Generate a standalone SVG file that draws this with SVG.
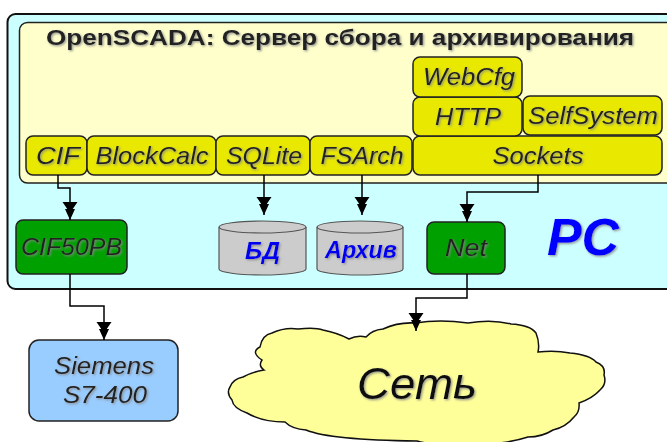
<svg xmlns="http://www.w3.org/2000/svg" width="667" height="442" viewBox="0 0 667 442">
<defs>
<filter id="sh" x="-10%" y="-30%" width="130%" height="170%">
<feDropShadow dx="1.2" dy="1.2" stdDeviation="0.8" flood-color="#888" flood-opacity="0.9"/>
</filter>
<marker id="arr" markerUnits="userSpaceOnUse" markerWidth="20" markerHeight="16" refX="0" refY="0" orient="auto" overflow="visible">
<path d="M-18,-7.5 L-18,7.5 L-7,0 Z M-11,-5 L-11,5 L0,0 Z" fill="#000"/>
</marker>
</defs>
<style>
text{font-family:"Liberation Sans",Arial,sans-serif;text-anchor:middle}
.y{fill:#e8e800;stroke:#222;stroke-width:1.5}
.yt{font-size:24px;font-style:italic;fill:#222;filter:url(#sh)}
.g{fill:#00a000;stroke:#222;stroke-width:1.5}
.cyl{fill:#cccccc;stroke:#555;stroke-width:1.2}
.ct{font-size:23px;font-style:italic;font-weight:bold;fill:#0000ee;filter:url(#sh)}
.con{fill:none;stroke:#000;stroke-width:1.5;marker-end:url(#arr)}
</style>
<g id="pc">
<rect x="7.5" y="14" width="700" height="275" rx="8" fill="#ccffff" stroke="#111" stroke-width="2"/>
<text x="583" y="255" font-size="52" font-weight="bold" font-style="italic" fill="#0000ff" filter="url(#sh)">PC</text>
</g>
<g id="openscada">
<rect x="19.5" y="22.5" width="680" height="160.5" rx="8" fill="#ffffcc" stroke="#222" stroke-width="1.5"/>
<text x="340" y="45" font-size="22.5" font-weight="bold" fill="#222" textLength="588" lengthAdjust="spacingAndGlyphs" filter="url(#sh)">OpenSCADA: Сервер сбора и архивирования</text>
</g>
<g id="cif"><rect class="y" x="26" y="136" width="61" height="39" rx="7"/><text class="yt" x="58" y="163.5" textLength="44" lengthAdjust="spacingAndGlyphs">CIF</text></g>
<g id="blockcalc"><rect class="y" x="87" y="136" width="129" height="39" rx="7"/><text class="yt" x="152" y="163.5" textLength="113" lengthAdjust="spacingAndGlyphs">BlockCalc</text></g>
<g id="sqlite"><rect class="y" x="216" y="136" width="94" height="39" rx="7"/><text class="yt" x="264" y="163.5" textLength="76" lengthAdjust="spacingAndGlyphs">SQLite</text></g>
<g id="fsarch"><rect class="y" x="310" y="136" width="102" height="39" rx="7"/><text class="yt" x="362" y="163.5" textLength="83" lengthAdjust="spacingAndGlyphs">FSArch</text></g>
<g id="sockets"><rect class="y" x="413" y="136" width="249" height="39" rx="7"/><text class="yt" x="538" y="163.5" textLength="91" lengthAdjust="spacingAndGlyphs">Sockets</text></g>
<g id="http"><rect class="y" x="413" y="97" width="109" height="39" rx="7"/><text class="yt" x="468" y="125" textLength="66" lengthAdjust="spacingAndGlyphs">HTTP</text></g>
<g id="webcfg"><rect class="y" x="413" y="57" width="109" height="40" rx="7"/><text class="yt" x="469" y="85" textLength="92" lengthAdjust="spacingAndGlyphs">WebCfg</text></g>
<g id="selfsystem"><rect class="y" x="523" y="96" width="139" height="39" rx="7"/><text class="yt" x="593" y="124" textLength="130" lengthAdjust="spacingAndGlyphs">SelfSystem</text></g>
<g id="cif50pb"><rect class="g" x="16" y="220" width="111" height="54" rx="7"/><text class="yt" x="71.5" y="255" textLength="101" lengthAdjust="spacingAndGlyphs">CIF50PB</text></g>
<g id="net"><rect class="g" x="427" y="222" width="78" height="52" rx="7"/><text class="yt" x="466" y="256" textLength="42" lengthAdjust="spacingAndGlyphs">Net</text></g>
<g id="bd">
<path class="cyl" d="M219,227 A43.5,6 0 0 1 306,227 L306,269 A43.5,6 0 0 1 219,269 Z"/>
<path d="M219,227 A43.5,6 0 0 0 306,227" fill="none" stroke="#555" stroke-width="1.2"/>
<text class="ct" x="262.5" y="259" textLength="35" lengthAdjust="spacingAndGlyphs">БД</text>
</g>
<g id="arhiv">
<path class="cyl" d="M317,227 A43,6 0 0 1 403,227 L403,269 A43,6 0 0 1 317,269 Z"/>
<path d="M317,227 A43,6 0 0 0 403,227" fill="none" stroke="#555" stroke-width="1.2"/>
<text class="ct" x="361" y="258" textLength="72" lengthAdjust="spacingAndGlyphs">Архив</text>
</g>
<g id="siemens">
<rect x="29" y="340" width="149" height="81" rx="10" fill="#99ccff" stroke="#222" stroke-width="1.5"/>
<text class="yt" x="104" y="374" textLength="100" lengthAdjust="spacingAndGlyphs" fill="#333">Siemens</text>
<text class="yt" x="105" y="403" textLength="84" lengthAdjust="spacingAndGlyphs" fill="#333">S7-400</text>
</g>
<g id="set">
<path d="M262,360 Q250,352 260,347 Q262,335 272,333 Q285,327 298,329 Q315,327 323,330 Q338,333 349,339 Q357,335 366,337 Q372,330 383,329 Q398,322 415,323 Q440,319 468,323 Q492,319 511,324 Q530,325 536,333 Q540,343 538,352 Q555,350 570,353 Q590,355 596,362 Q606,366 604,375 Q607,384 600,390 Q593,398 579,403 Q580,412 574,417 Q566,427 553,430 Q542,437 528,437 Q500,446 460,444 Q435,446 417,441 Q330,440 306,430 Q292,429 285,422 Q262,422 247,413 Q233,408 232,400 Q226,393 230,387 Q233,379 243,377 Q252,372 264,370 Q258,366 262,360 Z" fill="#ffff99" stroke="#111" stroke-width="1.5"/>
<text x="417" y="399" font-size="44" font-style="italic" fill="#111" textLength="120" lengthAdjust="spacingAndGlyphs" filter="url(#sh)">Сеть</text>
</g>
<g id="connectors">
<path class="con" d="M58,175 V188 H70 V220"/>
<path class="con" d="M264,175 V215"/>
<path class="con" d="M362,175 V215"/>
<path class="con" d="M538,175 V192 H467 V222"/>
<path class="con" d="M70,274 V306 H104 V340"/>
<path class="con" d="M467,274 V298 H416 V331"/>
</g>
</svg>
